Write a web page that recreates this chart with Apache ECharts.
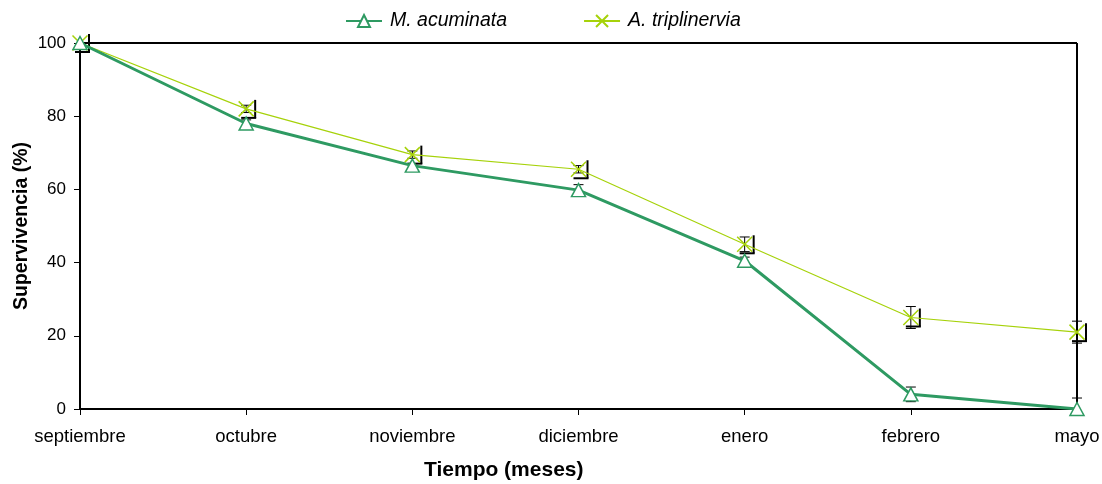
<!DOCTYPE html>
<html>
<head>
<meta charset="utf-8">
<script src="https://cdn.jsdelivr.net/npm/echarts@6/dist/echarts.min.js"></script>
<style>
  html, body { margin: 0; padding: 0; background: #fff; }
  #chart { width: 1102px; height: 484px; }
</style>
</head>
<body>
<div id="chart"></div>
<script>
// Monthly survival of two species (%)
const months = ['septiembre', 'octubre', 'noviembre', 'diciembre', 'enero', 'febrero', 'mayo'];
const acuminata = [100, 78, 66.5, 59.8, 40.5, 4, 0];
const acuminataErr = [0, 1, 0.5, 1.5, 1, 2, 3];
const triplinervia = [100, 82, 69.5, 65.5, 45, 25, 21];
const triplinerviaErr = [0, 1, 1, 1, 2, 3, 3];
const yTicks = [0, 20, 40, 60, 80, 100];

const GREEN = '#2e9a62';
const LIME = '#a6d20a';
const FONT = '"Liberation Sans", Arial, sans-serif';

const chart = echarts.init(document.getElementById('chart'), null, { renderer: 'canvas' });

// error bars with short caps
function errorBars(values, errs) {
  return {
    type: 'custom',
    silent: true,
    z: 1,
    data: values.map((v, i) => [i, v, errs[i]]),
    renderItem: function (params, api) {
      const i = api.value(0), v = api.value(1), e = api.value(2);
      if (!e) return null;
      const hi = api.coord([i, Math.min(v + e, 100)]);
      const lo = api.coord([i, Math.max(v - e, 0)]);
      const x = hi[0], w = 5;
      const st = { stroke: '#000', lineWidth: 1 };
      const children = [
        { type: 'line', shape: { x1: x, y1: hi[1], x2: x, y2: lo[1] }, style: st },
        { type: 'line', shape: { x1: x - w, y1: hi[1], x2: x + w, y2: hi[1] }, style: st }
      ];
      if (v - e > 0) {
        children.push({ type: 'line', shape: { x1: x - w, y1: lo[1], x2: x + w, y2: lo[1] }, style: st });
      }
      return { type: 'group', children: children };
    }
  };
}

// corner bracket beside each A. triplinervia marker
const brackets = {
  type: 'custom',
  silent: true,
  z: 3,
  data: triplinervia.map((v, i) => [i, v]),
  renderItem: function (params, api) {
    const p = api.coord([api.value(0), api.value(1)]);
    const st = { stroke: '#000', lineWidth: 2 };
    return {
      type: 'group',
      children: [
        { type: 'line', shape: { x1: p[0] + 9, y1: p[1] - 9, x2: p[0] + 9, y2: p[1] + 9 }, style: st },
        { type: 'line', shape: { x1: p[0] - 5, y1: p[1] + 9, x2: p[0] + 10, y2: p[1] + 9 }, style: st }
      ]
    };
  }
};

const option = {
  animation: false,
  backgroundColor: '#fff',
  textStyle: { fontFamily: FONT },
  legend: {
    top: 6,
    left: 340,
    itemGap: 76,
    itemWidth: 36,
    itemHeight: 15,
    textStyle: { fontFamily: FONT, fontSize: 19.5, fontStyle: 'italic', color: '#000', padding: [0, 0, 0, 3] },
    data: ['M. acuminata', 'A. triplinervia']
  },
  grid: { left: 80, right: 25, top: 43, bottom: 75, containLabel: false, outerBoundsMode: 'none' },
  xAxis: {
    type: 'category',
    data: months,
    boundaryGap: false,
    axisLine: { lineStyle: { color: '#000', width: 2 } },
    axisTick: { show: true, length: 6, lineStyle: { color: '#000', width: 1 } },
    axisLabel: { color: '#000', fontSize: 18.5, fontFamily: FONT, margin: 18 },
    splitLine: { show: false }
  },
  yAxis: {
    type: 'value',
    min: 0,
    max: 100,
    interval: 20,
    axisLine: { show: true, lineStyle: { color: '#000', width: 2 } },
    axisTick: { show: true, length: 6, lineStyle: { color: '#000', width: 1 } },
    axisLabel: {
      color: '#000', fontSize: 17, fontFamily: FONT, margin: 14,
      formatter: v => (yTicks.indexOf(v) >= 0 ? String(v) : '')
    },
    splitLine: { show: false },
    name: 'Supervivencia (%)',
    nameLocation: 'middle',
    nameGap: 48,
    nameMoveOverlap: false,
    nameRotate: 90,
    nameTextStyle: { color: '#000', fontSize: 19.5, fontWeight: 'bold', fontFamily: FONT }
  },
  graphic: [
    // top and right frame lines of the plot area
    { type: 'line', shape: { x1: 80, y1: 43, x2: 1077, y2: 43 }, style: { stroke: '#000', lineWidth: 2 }, z: 0 },
    { type: 'line', shape: { x1: 1077, y1: 43, x2: 1077, y2: 409 }, style: { stroke: '#000', lineWidth: 2 }, z: 0 },
    {
      type: 'text', left: 424, top: 460,
      style: { text: 'Tiempo (meses)', fill: '#000', font: 'bold 21px ' + FONT }
    }
  ],
  series: [
    errorBars(acuminata, acuminataErr),
    errorBars(triplinervia, triplinerviaErr),
    brackets,
    {
      name: 'M. acuminata',
      type: 'line',
      data: acuminata,
      z: 5,
      symbol: 'triangle',
      symbolSize: [14, 13],
      showAllSymbol: true,
      lineStyle: { color: GREEN, width: 3 },
      itemStyle: { color: '#fff', borderColor: GREEN, borderWidth: 1.5 }
    },
    {
      name: 'A. triplinervia',
      type: 'line',
      data: triplinervia,
      z: 4,
      symbol: 'path://M0,0L10,10M10,0L0,10',
      symbolSize: 15,
      showAllSymbol: true,
      lineStyle: { color: LIME, width: 1.2 },
      itemStyle: { color: 'rgba(0,0,0,0)', borderColor: LIME, borderWidth: 1.5 }
    }
  ]
};

chart.setOption(option);
</script>
</body>
</html>
